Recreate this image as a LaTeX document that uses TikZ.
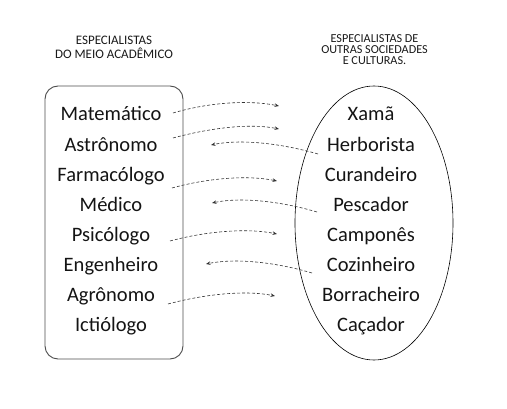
\documentclass[tikz,border=0pt]{standalone}
\usepackage{fontspec}
\setmainfont{Carlito}
\usetikzlibrary{arrows.meta,shapes.geometric}
\begin{document}
\begin{tikzpicture}[x=1pt,y=-1pt,
  item/.style={font=\fontsize{20.5}{24}\selectfont, anchor=base, inner sep=0pt, text=black!92},
  hdrL/.style={font=\fontsize{13}{14}\selectfont, align=center, inner sep=0pt, anchor=north, text=black!90},
  hdrR/.style={font=\fontsize{12.2}{11}\selectfont, align=center, inner sep=0pt, anchor=north, text=black!90},
  link/.style={draw=black!80, line width=0.6pt, dash pattern=on 3pt off 2pt,
    -{Stealth[length=4.5pt,width=3.5pt]}}
]
\useasboundingbox (0,0) rectangle (507,409);

% headers
\node[hdrL] (hl) at (114,36) {ESPECIALISTAS\\DO MEIO ACADÊMICO};
\node[hdrR] (hr) at (374.5,34.5) {ESPECIALISTAS DE\\OUTRAS SOCIEDADES\\E CULTURAS.};

% containers
\node[draw=black!70, line width=0.9pt, rounded corners=13pt, minimum width=138pt,
  minimum height=273pt, inner sep=0pt] (acad) at (114,222.5) {};
\node[draw=black, line width=0.6pt, ellipse, minimum width=158pt,
  minimum height=274pt, inner sep=0pt] (outras) at (374,223) {};

% left items
\node[item] (l1) at (111,121.0) {Matemático};
\node[item] (l2) at (111,151.1) {Astrônomo};
\node[item] (l3) at (111,181.2) {Farmacólogo};
\node[item] (l4) at (111,211.3) {Médico};
\node[item] (l5) at (111,241.4) {Psicólogo};
\node[item] (l6) at (111,271.5) {Engenheiro};
\node[item] (l7) at (111,301.6) {Agrônomo};
\node[item] (l8) at (111,331.7) {Ictiólogo};

% right items
\node[item] (r1) at (371,121.0) {Xamã};
\node[item] (r2) at (371,151.1) {Herborista};
\node[item] (r3) at (371,181.2) {Curandeiro};
\node[item] (r4) at (371,211.3) {Pescador};
\node[item] (r5) at (371,241.4) {Camponês};
\node[item] (r6) at (371,271.5) {Cozinheiro};
\node[item] (r7) at (371,301.6) {Borracheiro};
\node[item] (r8) at (371,331.7) {Caçador};

% arrow end points
\coordinate (s1) at (173,113); \coordinate (e1) at (279,106);
\coordinate (s2) at (173,138); \coordinate (e2) at (279,129);
\coordinate (s3) at (318,154); \coordinate (e3) at (211,145);
\coordinate (s4) at (172,188); \coordinate (e4) at (277,181);
\coordinate (s5) at (317,212); \coordinate (e5) at (212,203);
\coordinate (s6) at (170,241); \coordinate (e6) at (277,234);
\coordinate (s7) at (312,273); \coordinate (e7) at (206,264);
\coordinate (s8) at (168,304); \coordinate (e8) at (275,296);

\draw[link] (s1) .. controls (210,102) and (250,100) .. (e1);
\draw[link] (s2) .. controls (210,128) and (250,123) .. (e2);
\draw[link] (s3) .. controls (280,143) and (240,139) .. (e3);
\draw[link] (s4) .. controls (208,178) and (248,175) .. (e4);
\draw[link] (s5) .. controls (280,201) and (240,197) .. (e5);
\draw[link] (s6) .. controls (207,231) and (248,228) .. (e6);
\draw[link] (s7) .. controls (275,262) and (235,258) .. (e7);
\draw[link] (s8) .. controls (205,294) and (246,290) .. (e8);
\end{tikzpicture}
\end{document}
